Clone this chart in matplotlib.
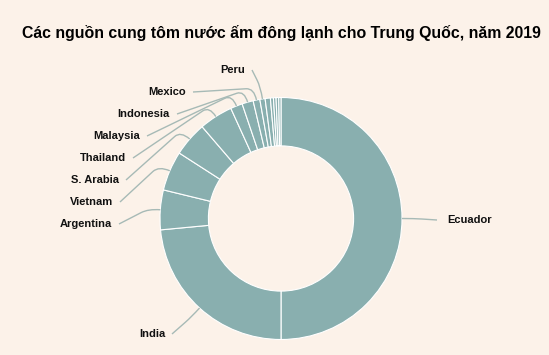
import numpy as np
import matplotlib
matplotlib.use("Agg")
import matplotlib.pyplot as plt
from matplotlib.path import Path
from matplotlib.patches import PathPatch

# Nguồn cung tôm nước ấm đông lạnh cho Trung Quốc, 2019 (tỷ trọng %, ước lượng)
countries = ["Ecuador", "India", "Argentina", "Vietnam", "S. Arabia", "Thailand",
             "Malaysia", "Indonesia", "Mexico", "Peru",
             "Khác 1", "Khác 2", "Khác 3", "Khác 4", "Khác 5"]
shares = [50.0, 23.5, 5.3, 5.3, 4.6, 4.5, 1.6, 1.5, 0.9, 0.7,
          0.7, 0.4, 0.35, 0.35, 0.3]
labeled = ["Ecuador", "India", "Argentina", "Vietnam", "S. Arabia", "Thailand",
           "Malaysia", "Indonesia", "Mexico", "Peru"]

# vị trí nhãn (pixel, gốc trên-trái)
label_pos = {
    "Ecuador": (447, 220, "left"),
    "India": (165, 334, "right"),
    "Argentina": (112, 224, "right"),
    "Vietnam": (113, 202, "right"),
    "S. Arabia": (119, 180, "right"),
    "Thailand": (126, 158, "right"),
    "Malaysia": (140, 136, "right"),
    "Indonesia": (170, 114, "right"),
    "Mexico": (186, 92, "right"),
    "Peru": (245, 70, "right"),
}

W, H = 549, 355
bg = "#fcf2e9"
slice_color = "#89afaf"
line_color = "#a7bab6"

plt.rcParams['font.family'] = ['Liberation Sans', 'DejaVu Sans']

fig = plt.figure(figsize=(W / 100, H / 100), dpi=100, facecolor=bg)
ax = fig.add_axes([0, 0, 1, 1])
ax.set_facecolor(bg)

cx, cy, r = 281, H - 218.5, 121
wedges, _ = ax.pie(shares, colors=[slice_color] * len(shares), startangle=90,
                   counterclock=False, center=(cx, cy), radius=r, frame=True,
                   wedgeprops=dict(width=r * 0.4, edgecolor="white", linewidth=0.8))

for w, name in zip(wedges, countries):
    if name not in labeled:
        continue
    ang = np.deg2rad((w.theta1 + w.theta2) / 2)
    ux, uy = np.cos(ang), np.sin(ang)
    px, py = cx + r * ux, cy + r * uy
    tx, ty, ha = label_pos[name]
    ty = H - ty
    if ha == "left":
        start = (tx - 10, ty)
    else:
        start = (tx + 7, ty)
    # nối: đoạn thẳng tới gần lát, rồi cong vào theo hướng bán kính
    k = 12
    ctrl = (px + ux * k, py + uy * k)
    d = np.hypot(ctrl[0] - start[0], ctrl[1] - start[1])
    t = max(0.0, 1 - 8 / d) if d > 0 else 0
    mid = (start[0] + (ctrl[0] - start[0]) * t, start[1] + (ctrl[1] - start[1]) * t)
    verts = [start, mid, ctrl, (px, py)]
    codes = [Path.MOVETO, Path.LINETO, Path.CURVE3, Path.CURVE3]
    ax.add_patch(PathPatch(Path(verts, codes), fill=False, edgecolor=line_color,
                           lw=1, zorder=1))
    ax.text(tx, ty, name, ha=ha, va="center", fontsize=8, fontweight="bold",
            color="#111111")

ax.text(281, H - 33, "Các nguồn cung tôm nước ấm đông lạnh cho Trung Quốc, năm 2019",
        ha="center", va="center", fontsize=11.4, fontweight="bold", color="#000000")

ax.set_xlim(0, W)
ax.set_ylim(0, H)
ax.set_aspect("equal")
ax.axis("off")

fig.savefig("out.png", dpi=100, facecolor=bg)
